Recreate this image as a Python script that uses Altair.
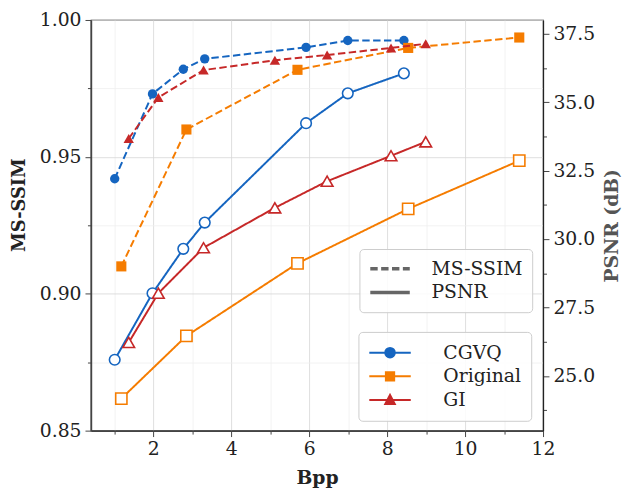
import altair as alt
import pandas as pd

# ---------------- data ----------------
methods = ["CGVQ", "Original", "GI"]
colors = ["#1565C0", "#F57C00", "#C62828"]
metric_names = ["MS-SSIM", "PSNR"]

cgvq_bpp = [1.01, 1.98, 2.77, 3.32, 5.92, 6.99, 8.43]
cgvq_msssim = [0.942, 0.973, 0.982, 0.9858, 0.990, 0.9925, 0.9925]
cgvq_psnr = [25.59, 28.02, 29.64, 30.60, 34.23, 35.32, 36.05]

orig_bpp = [1.18, 2.85, 5.70, 8.54, 11.39]
orig_msssim = [0.910, 0.960, 0.9818, 0.9898, 0.9936]
orig_psnr = [24.17, 26.46, 29.11, 31.10, 32.86]

gi_bpp = [1.37, 2.13, 3.29, 5.12, 6.46, 8.10, 8.99]
gi_msssim = [0.9567, 0.9717, 0.9817, 0.9853, 0.9872, 0.9898, 0.9913]
gi_psnr = [26.22, 28.02, 29.68, 31.14, 32.11, 33.04, 33.55]

x_ticks = list(range(1, 13))
msssim_ticks = [0.85, 0.875, 0.9, 0.925, 0.95, 0.975, 1.0]
psnr_ticks = [23.75, 25.0, 26.25, 27.5, 28.75, 30.0, 31.25, 32.5, 33.75, 35.0, 36.25, 37.5]

FONT = "DejaVu Serif"
FS = 19

series = {
    "CGVQ": (cgvq_bpp, cgvq_msssim, cgvq_psnr),
    "Original": (orig_bpp, orig_msssim, orig_psnr),
    "GI": (gi_bpp, gi_msssim, gi_psnr),
}
frames = {
    m: pd.DataFrame({"method": m, "bpp": b, "msssim": s, "psnr": p})
    for m, (b, s, p) in series.items()
}
all_df = pd.concat(list(frames.values()), ignore_index=True)

shape_of = {"CGVQ": "circle", "Original": "square", "GI": "triangle-up"}
filled_size = {"CGVQ": 90, "Original": 105, "GI": 110}
open_size = {"CGVQ": 115, "Original": 130, "GI": 140}
color_of = dict(zip(methods, colors))

legend_paths = [
    "M-1,0H1M-0.23,0A0.23,0.23 0 1,0 0.23,0A0.23,0.23 0 1,0 -0.23,0Z",
    "M-1,0H1M-0.2,-0.2H0.2V0.2H-0.2Z",
    "M-1,0H1M0,-0.25L0.23,0.19H-0.23Z",
]

# ---------------- axes ----------------
x_enc = alt.X(
    "bpp:Q",
    scale=alt.Scale(domain=[0.4, 12], nice=False, zero=False),
    axis=alt.Axis(
        values=x_ticks,
        labelExpr="datum.value % 2 == 0 ? datum.label : ''",
        labelOverlap=False,
        labelFlush=False,
        tickSize={"condition": {"test": "datum.value % 2 == 0", "value": 6}, "value": 3.5},
        gridColor={"condition": {"test": "datum.value % 2 == 0", "value": "#d6d6d6"}, "value": "#eeeeee"},
        grid=True,
        labelPadding=3,
        title="Bpp",
        titleBaseline="alphabetic",
        titleY=54,
        domainColor="#444444",
        domainWidth=1.6,
    ),
)

major_ms = "abs(datum.value*20 - round(datum.value*20)) < 0.001"
y_left = alt.Y(
    "msssim:Q",
    scale=alt.Scale(domain=[0.85, 1.0], nice=False, zero=False),
    axis=alt.Axis(
        values=msssim_ticks,
        format=".2f",
        labelExpr=f"{major_ms} ? datum.label : ''",
        labelOverlap=False,
        labelFlush=False,
        tickSize={"condition": {"test": major_ms, "value": 6}, "value": 3.5},
        gridColor={"condition": {"test": major_ms, "value": "#d6d6d6"}, "value": "#eeeeee"},
        grid=True,
        labelPadding=4,
        title="MS-SSIM",
        titleFontSize=18,
        titleAngle=270,
        titleBaseline="middle",
        titleX=-72,
        titleY=187,
        domainColor="#444444",
        domainWidth=1.6,
    ),
)

major_ps = "datum.value % 2.5 == 0"
y_right = alt.Y(
    "psnr:Q",
    scale=alt.Scale(domain=[23, 38], nice=False, zero=False),
    axis=alt.Axis(
        orient="right",
        values=psnr_ticks,
        format=".1f",
        labelExpr=f"{major_ps} ? datum.label : ''",
        labelOverlap=False,
        labelFlush=False,
        tickSize={"condition": {"test": major_ps, "value": 6}, "value": 3.5},
        grid=False,
        labelPadding=4,
        title="PSNR (dB)",
        titleColor="#555555",
        titleAngle=270,
        titleBaseline="middle",
        titleX=69,
        titleY=208,
        domainColor="#222222",
        domainWidth=1.2,
    ),
)

dash_legend = alt.Legend(
    title=None,
    orient="none",
    legendX=272,
    legendY=232,
    symbolType="stroke",
    symbolSize=1600,
    symbolStrokeWidth=3.5,
    symbolStrokeColor="#666666",
    clipHeight=22,
    rowPadding=2,
    labelOffset=20,
    padding=9,
    strokeColor="#cccccc",
    fillColor="rgba(255,255,255,0.85)",
    cornerRadius=4,
    labelFont=FONT,
    labelFontSize=FS,
    labelColor="#222222",
    labelLimit=0,
)
dash_scale = alt.Scale(domain=metric_names, range=[[7.5, 3.5], [1, 0]])

meth_legend = alt.Legend(
    title=None,
    orient="none",
    legendX=271,
    legendY=316,
    symbolSize=1764,
    symbolStrokeWidth=2,
    symbolOpacity=1,
    clipHeight=22,
    rowPadding=2,
    labelOffset=32,
    padding=10,
    strokeColor="#cccccc",
    fillColor="rgba(255,255,255,0.85)",
    cornerRadius=4,
    labelFont=FONT,
    labelFontSize=FS,
    labelColor="#222222",
    labelLimit=0,
)

# ---------------- layers ----------------
left_layers = []
right_layers = []
for m in methods:
    df = frames[m]
    c = color_of[m]
    left_layers.append(
        alt.Chart(df)
        .transform_calculate(metric="'MS-SSIM'")
        .mark_line(color=c, strokeWidth=2)
        .encode(x=x_enc, y=y_left,
                strokeDash=alt.StrokeDash("metric:N", scale=dash_scale, legend=dash_legend))
    )
    left_layers.append(
        alt.Chart(df)
        .mark_point(filled=True, shape=shape_of[m], size=filled_size[m], color=c, opacity=1)
        .encode(x=x_enc, y=y_left)
    )
    right_layers.append(
        alt.Chart(df)
        .transform_calculate(metric="'PSNR'")
        .mark_line(color=c, strokeWidth=2)
        .encode(x=x_enc, y=y_right,
                strokeDash=alt.StrokeDash("metric:N", scale=dash_scale, legend=dash_legend))
    )
    right_layers.append(
        alt.Chart(df)
        .mark_point(filled=False, shape=shape_of[m], size=open_size[m], stroke=c,
                    fill="white", strokeWidth=1.6, opacity=1)
        .encode(x=x_enc, y=y_right)
    )

# hidden layer that only provides the method legend (line + marker symbols)
legend_layer = (
    alt.Chart(all_df)
    .mark_point(filled=True, opacity=0)
    .encode(
        x=x_enc,
        y=y_left,
        fill=alt.Fill("method:N", scale=alt.Scale(domain=methods, range=colors), legend=meth_legend),
        stroke=alt.Stroke("method:N", scale=alt.Scale(domain=methods, range=colors), legend=meth_legend),
        shape=alt.Shape("method:N", scale=alt.Scale(domain=methods, range=legend_paths), legend=meth_legend),
    )
)
left_layers.append(legend_layer)

left = alt.layer(*left_layers)
right = alt.layer(*right_layers)

chart = (
    alt.layer(left, right)
    .resolve_scale(y="independent")
    .properties(
        width=458,
        height=416,
        autosize="none",
        padding={"left": 84, "top": 9, "right": 81, "bottom": 58},
    )
    .configure_axis(
        labelFont=FONT,
        labelFontSize=FS,
        labelColor="#222222",
        titleFont=FONT,
        titleFontSize=FS,
        titleFontWeight="bold",
        titleColor="#222222",
        tickColor="#444444",
        tickWidth=1,
        gridWidth=0.8,
    )
    .configure_view(stroke="#222222", strokeWidth=1.2)
)

chart.save("out.html", embed_options={"renderer": "svg", "actions": False})
